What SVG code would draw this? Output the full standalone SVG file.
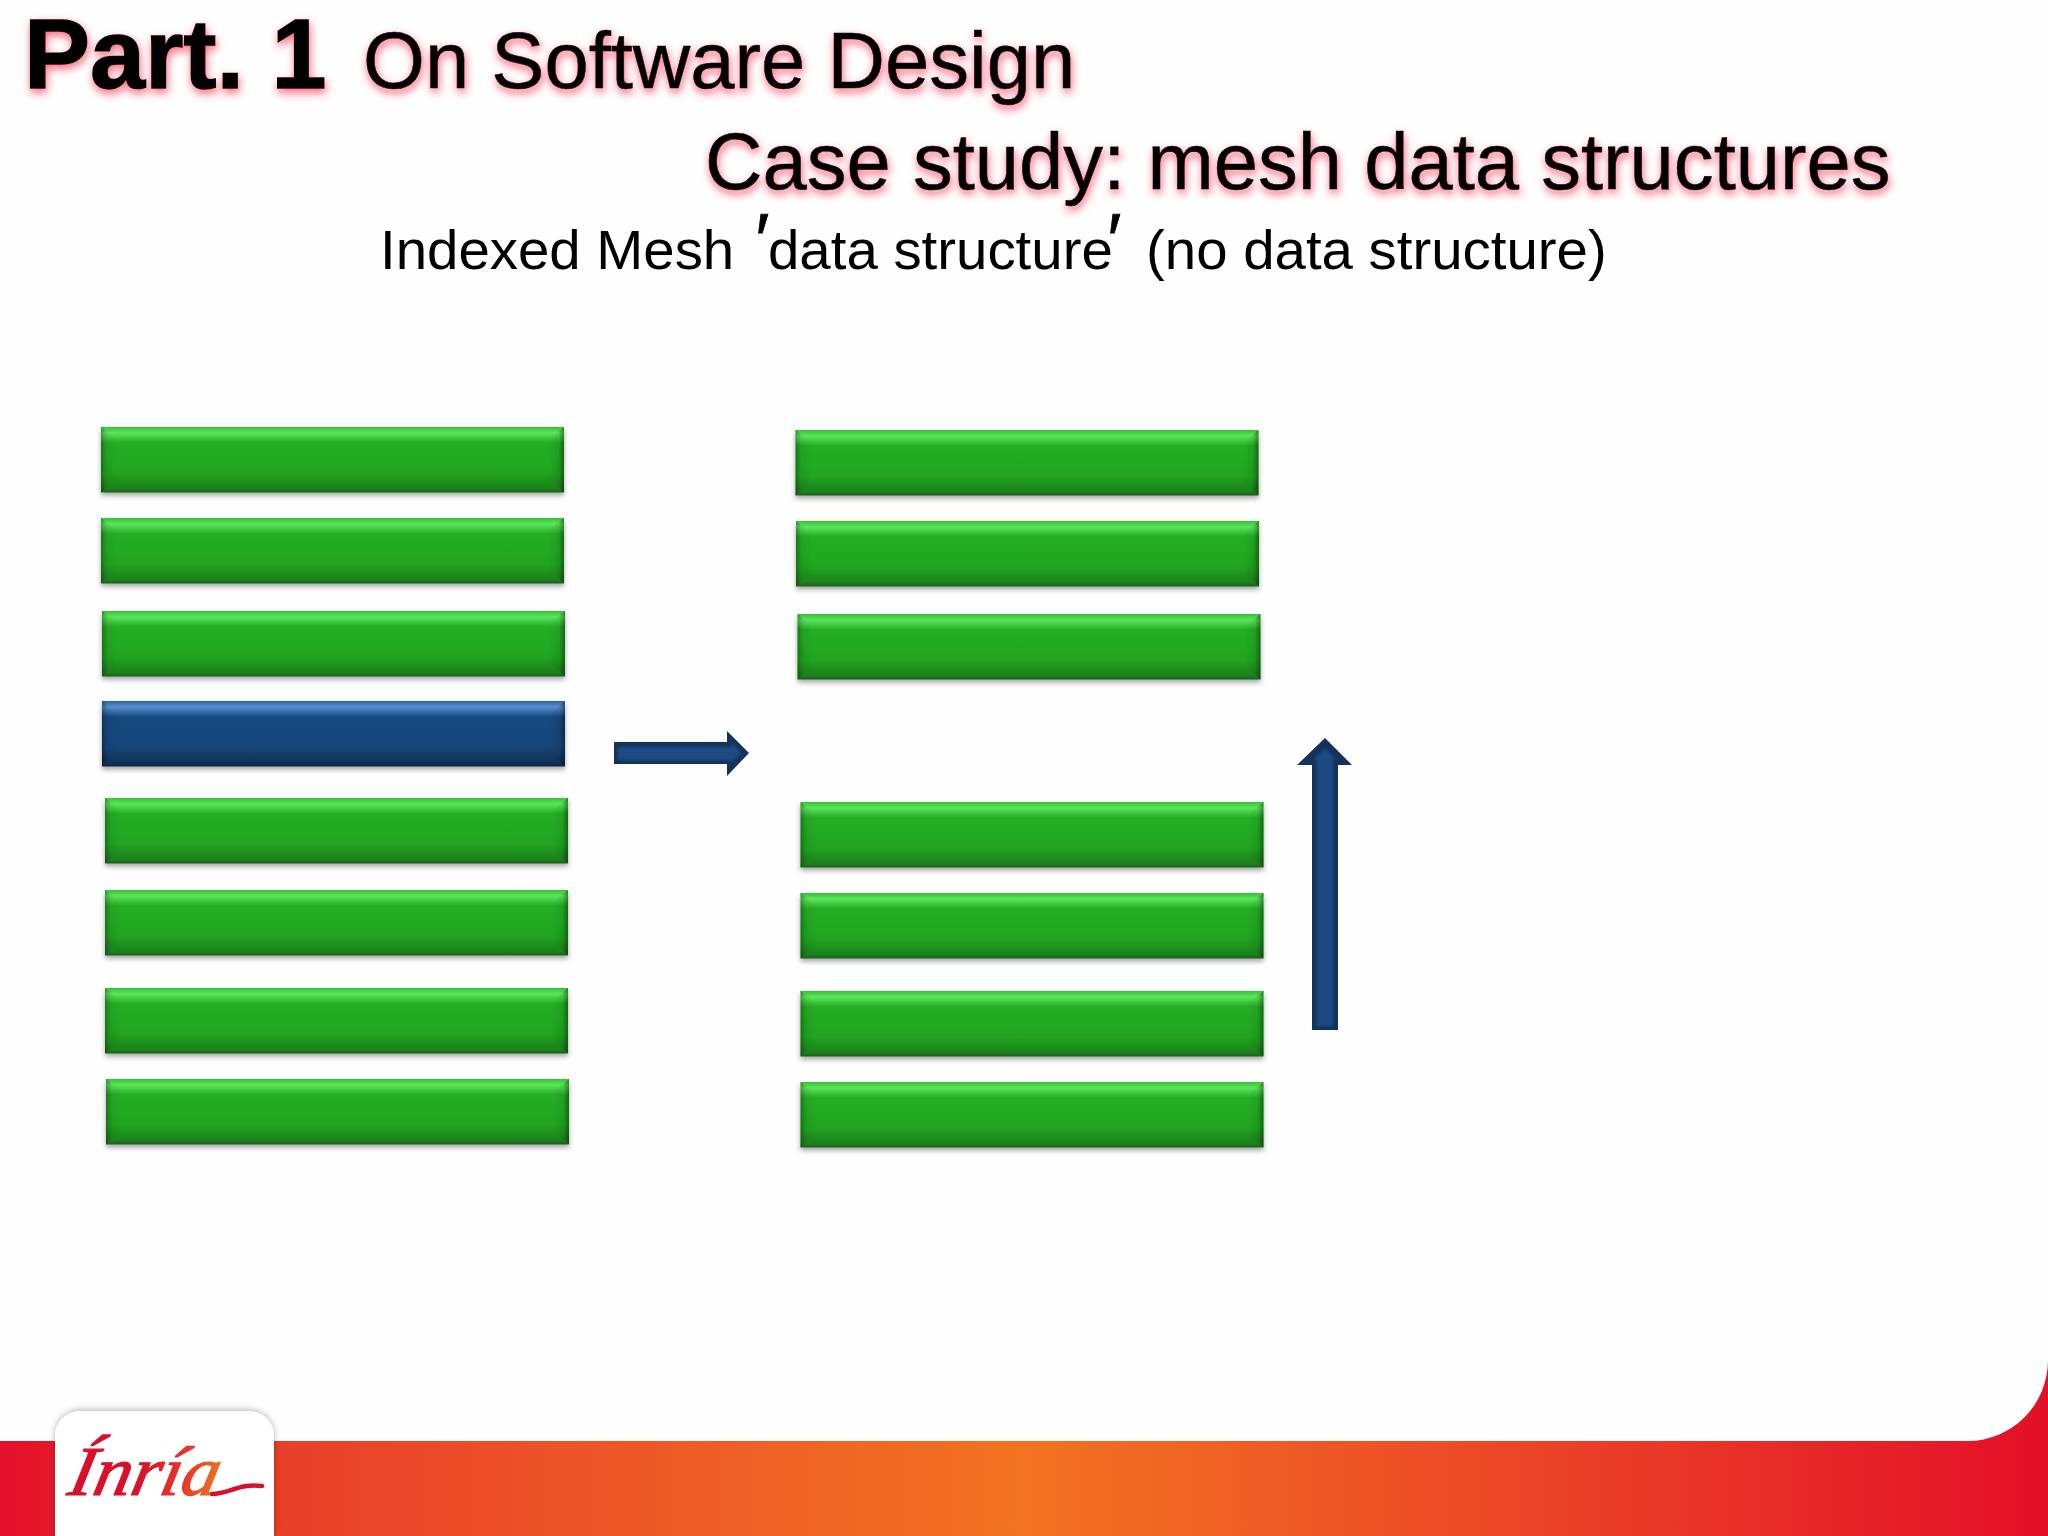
<svg xmlns="http://www.w3.org/2000/svg" width="2048" height="1536" viewBox="0 0 2048 1536">
<style>
.t{font-family:"Liberation Sans",Arial,sans-serif;fill:#000}
.glow{filter:url(#glow);stroke:#000}
.title{font-size:79.6px;stroke-width:.6px}
.bold{font-size:99px;font-weight:700;stroke-width:1.4px}
.sub{font-size:56.4px}
.prime{font-size:74px;font-style:italic;stroke:#000;stroke-width:.8px}
.outer{fill:#14335c}
.inner{fill:#1f4c84}
</style>
<defs>
<filter id="glow" x="-5%" y="-30%" width="110%" height="160%"><feDropShadow dx="1" dy="4" stdDeviation="4.5" flood-color="#e8102e" flood-opacity=".62"/></filter>
<filter id="sh" x="-5%" y="-10%" width="110%" height="130%"><feDropShadow dx="0" dy="3" stdDeviation="2.5" flood-color="#000" flood-opacity=".35"/></filter>
<filter id="csh" x="-10%" y="-10%" width="120%" height="120%"><feDropShadow dx="0" dy="-1" stdDeviation="3" flood-color="#000" flood-opacity=".3"/></filter>
<filter id="soft" x="-5%" y="-5%" width="110%" height="110%"><feGaussianBlur stdDeviation="1.5"/></filter>
<linearGradient id="gv" x1="0" y1="0" x2="0" y2="1">
<stop offset="0" stop-color="#35c035"/><stop offset=".09" stop-color="#5ce65c"/><stop offset=".24" stop-color="#25ae25"/><stop offset=".7" stop-color="#20a520"/><stop offset=".94" stop-color="#1e801e"/><stop offset="1" stop-color="#1a5c1a"/>
</linearGradient>
<linearGradient id="bv" x1="0" y1="0" x2="0" y2="1">
<stop offset="0" stop-color="#2c639c"/><stop offset=".09" stop-color="#5890cf"/><stop offset=".24" stop-color="#17497f"/><stop offset=".7" stop-color="#164679"/><stop offset=".94" stop-color="#113059"/><stop offset="1" stop-color="#0e2848"/>
</linearGradient>
<linearGradient id="ls" x1="0" y1="0" x2="1" y2="0"><stop offset="0" stop-color="#000" stop-opacity=".3"/><stop offset=".35" stop-color="#000" stop-opacity=".06"/><stop offset="1" stop-color="#000" stop-opacity="0"/></linearGradient>
<linearGradient id="rs" x1="1" y1="0" x2="0" y2="0"><stop offset="0" stop-color="#000" stop-opacity=".4"/><stop offset=".35" stop-color="#000" stop-opacity=".08"/><stop offset="1" stop-color="#000" stop-opacity="0"/></linearGradient>
<g id="bev">
<polygon points="0,0 16,13 16,52 0,65" fill="url(#ls)"/>
<polygon points="463,0 447,13 447,52 463,65" fill="url(#rs)"/>
</g>
<g id="green" filter="url(#sh)"><rect width="463" height="65.5" fill="url(#gv)"/><use href="#bev"/></g>
<g id="blue" filter="url(#sh)"><rect width="463" height="65.5" fill="url(#bv)"/><use href="#bev"/></g>
<linearGradient id="foot" gradientUnits="userSpaceOnUse" x1="0" y1="0" x2="2048" y2="0">
<stop offset="0" stop-color="#e3102a"/><stop offset=".14" stop-color="#e8402a"/><stop offset=".5" stop-color="#f27322"/><stop offset=".8" stop-color="#e93a28"/><stop offset="1" stop-color="#e30f28"/>
</linearGradient>
<linearGradient id="logo" gradientUnits="userSpaceOnUse" x1="66" y1="0" x2="264" y2="0">
<stop offset="0" stop-color="#d9102c"/><stop offset=".25" stop-color="#e43a28"/><stop offset=".45" stop-color="#f07a20"/><stop offset=".7" stop-color="#e02a2a"/><stop offset="1" stop-color="#d9102c"/>
</linearGradient>
</defs>
<rect width="2048" height="1536" fill="#fefefe"/>
<g id="titles">
<text class="t glow bold" x="24" y="88">Part. 1</text>
<text class="t glow title" x="363" y="88">On Software Design</text>
<text class="t glow title" x="705" y="189">Case study: mesh data structures</text>
<text class="t sub" y="269"><tspan x="380">Indexed Mesh </tspan><tspan class="prime" x="752" y="265">′</tspan><tspan x="768" y="269">data structure</tspan><tspan class="prime" x="1104" y="265">′</tspan><tspan x="1146" y="269">(no data structure)</tspan></text>
</g>
<g id="left-list">
<g id="L1"><use href="#green" x="101" y="427"/></g>
<g id="L2"><use href="#green" x="101" y="518"/></g>
<g id="L3"><use href="#green" x="102" y="611"/></g>
<g id="L4"><use href="#blue" x="102" y="701"/></g>
<g id="L5"><use href="#green" x="105" y="798"/></g>
<g id="L6"><use href="#green" x="105" y="890"/></g>
<g id="L7"><use href="#green" x="105" y="988"/></g>
<g id="L8"><use href="#green" x="106" y="1079"/></g>
</g>
<g id="right-list">
<g id="R1"><use href="#green" x="795.5" y="430"/></g>
<g id="R2"><use href="#green" x="796" y="521"/></g>
<g id="R3"><use href="#green" x="797.5" y="614"/></g>
<g id="R4"><use href="#green" x="800.5" y="802"/></g>
<g id="R5"><use href="#green" x="800.5" y="893"/></g>
<g id="R6"><use href="#green" x="800.5" y="991"/></g>
<g id="R7"><use href="#green" x="800.5" y="1082"/></g>
</g>
<g id="connectors">
<g id="arrow-right">
<polygon class="outer" points="614,742 727,742 727,731 749,753 727,776 727,764 614,764"/>
<polygon class="inner" filter="url(#soft)" points="618,747 732,747 732,743 741,753 732,762 732,760 618,760"/>
</g>
<g id="arrow-up">
<polygon class="outer" points="1325,738 1352,765 1338,765 1338,1030 1312,1030 1312,765 1297,765"/>
<polygon class="inner" filter="url(#soft)" points="1325,748 1336,760 1333,760 1333,1026 1317,1026 1317,760 1314,760"/>
</g>
</g>
<g id="footer">
<path d="M0 1441H1968A80 81 0 0 0 2048 1360V1536H0Z" fill="url(#foot)"/>
<path d="M55 1536V1436A25 25 0 0 1 80 1411H249A25 25 0 0 1 274 1436V1536Z" fill="#fff" filter="url(#csh)"/>
<text transform="translate(66 1495) skewX(-12)" font-family="Liberation Serif,serif" font-style="italic" font-size="70" fill="url(#logo)" stroke="url(#logo)" stroke-width="1.2" textLength="150" lengthAdjust="spacingAndGlyphs">Ínría</text>
<path d="M212 1494C228 1494 240 1483 262 1486" fill="none" stroke="#d9102c" stroke-width="4.5" stroke-linecap="round"/>
</g>
</svg>
